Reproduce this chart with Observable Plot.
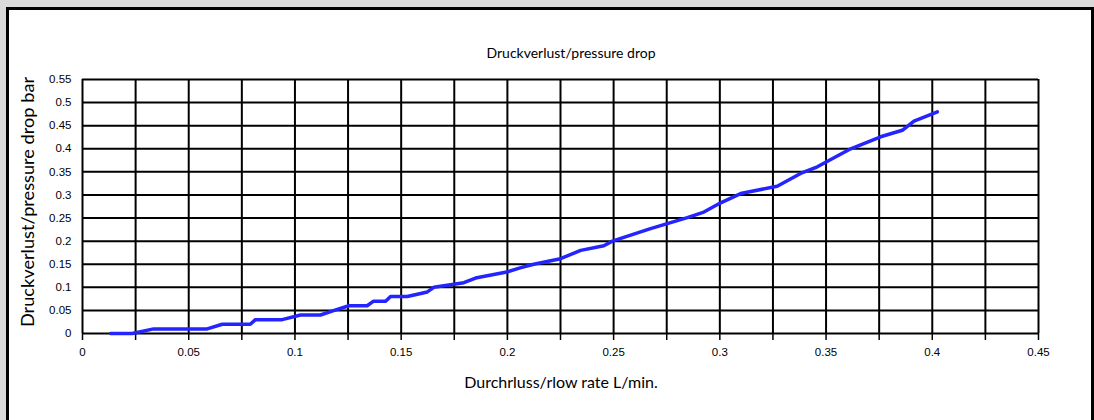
<!DOCTYPE html>
<html>
<head>
<meta charset="utf-8">
<script src="https://cdn.jsdelivr.net/npm/d3@7"></script>
<script src="https://cdn.jsdelivr.net/npm/@observablehq/plot@0.6"></script>
<style>
  html, body { margin: 0; padding: 0; background: #d9d9d9; width: 1094px; height: 420px; overflow: hidden; }
  #panel { position: absolute; left: 6px; top: 7px; width: 1088px; height: 430px; box-sizing: border-box; border: 3px solid #000; background: #fff; }
  #chart { position: absolute; left: 0; top: 0; }
  .lbl { position: absolute; font-family: Lato, "Noto Sans", sans-serif; color: #000; white-space: nowrap; }
</style>
</head>
<body>
<div id="panel"></div>
<div id="chart"></div>
<div class="lbl" id="title" style="left:571px; top:52px; transform:translate(-50%,-50%); font-size:14px;">Druckverlust/pressure drop</div>
<div class="lbl" id="xlabel" style="left:561px; top:381px; transform:translate(-50%,-50%); font-size:16px;">Durchrluss/rlow rate L/min.</div>
<div class="lbl" id="ylabel" style="left:27px; top:202px; transform:translate(-50%,-50%) rotate(-90deg); font-size:18.2px;">Druckverlust/pressure drop bar</div>
<script>
// Flow rate (L/min) and pressure drop (bar)
const flow = [0.0132, 0.0234, 0.0335, 0.0587, 0.0658, 0.079, 0.0814, 0.094, 0.1026, 0.112, 0.1185, 0.1254, 0.134, 0.137, 0.1427, 0.145, 0.1529, 0.1623, 0.1654, 0.1795, 0.185, 0.1997, 0.206, 0.2124, 0.225, 0.2345, 0.2454, 0.2494, 0.2674, 0.2847, 0.2925, 0.3004, 0.3098, 0.327, 0.338, 0.3459, 0.3616, 0.3757, 0.3859, 0.3914, 0.4024];
const drop = [0, 0, 0.01, 0.01, 0.02, 0.02, 0.03, 0.03, 0.04, 0.04, 0.05, 0.06, 0.06, 0.07, 0.07, 0.08, 0.08, 0.09, 0.10, 0.11, 0.12, 0.133, 0.142, 0.15, 0.162, 0.18, 0.19, 0.20, 0.227, 0.251, 0.263, 0.283, 0.303, 0.319, 0.3465, 0.361, 0.40, 0.426, 0.44, 0.46, 0.48];

const xTicks = [0, 0.05, 0.1, 0.15, 0.2, 0.25, 0.3, 0.35, 0.4, 0.45];
const xTickLabels = ["0", "0.05", "0.1", "0.15", "0.2", "0.25", "0.3", "0.35", "0.4", "0.45"];
const xGrid = [0, 0.025, 0.05, 0.075, 0.1, 0.125, 0.15, 0.175, 0.2, 0.225, 0.25, 0.275, 0.3, 0.325, 0.35, 0.375, 0.4, 0.425, 0.45];
const yTicks = [0, 0.05, 0.1, 0.15, 0.2, 0.25, 0.3, 0.35, 0.4, 0.45, 0.5, 0.55];
const yTickLabels = ["0", "0.05", "0.1", "0.15", "0.2", "0.25", "0.3", "0.35", "0.4", "0.45", "0.5", "0.55"];

const data = flow.map((f, i) => ({flow: f, drop: drop[i]}));

const chart = Plot.plot({
  width: 1094,
  height: 420,
  marginLeft: 82,
  marginRight: 56,
  marginTop: 79,
  marginBottom: 87,
  x: {domain: [0, 0.45]},
  y: {domain: [0, 0.55]},
  style: {background: "transparent", fontFamily: "'Liberation Sans', Arial, sans-serif", fontSize: "11.5px", color: "#000"},
  marks: [
    Plot.ruleX(xGrid, {stroke: "#000", strokeWidth: 2}),
    Plot.ruleY(yTicks, {stroke: "#000", strokeWidth: 2}),
    Plot.axisX({ticks: xGrid, tickSize: 7, tickFormat: () => "", label: null, stroke: "#000", strokeWidth: 1.5, strokeOpacity: 1}),
    Plot.axisX({ticks: xTicks, tickSize: 0, tickPadding: 14, tickFormat: (d) => xTickLabels[xTicks.indexOf(d)], label: null}),
    Plot.axisY({ticks: yTicks, tickSize: 0, tickPadding: 11, tickFormat: (d) => yTickLabels[yTicks.indexOf(d)], label: null}),
    Plot.line(data, {x: "flow", y: "drop", stroke: "#2424ff", strokeWidth: 3.5, strokeLinejoin: "round"})
  ]
});
document.getElementById("chart").appendChild(chart);
</script>
</body>
</html>
